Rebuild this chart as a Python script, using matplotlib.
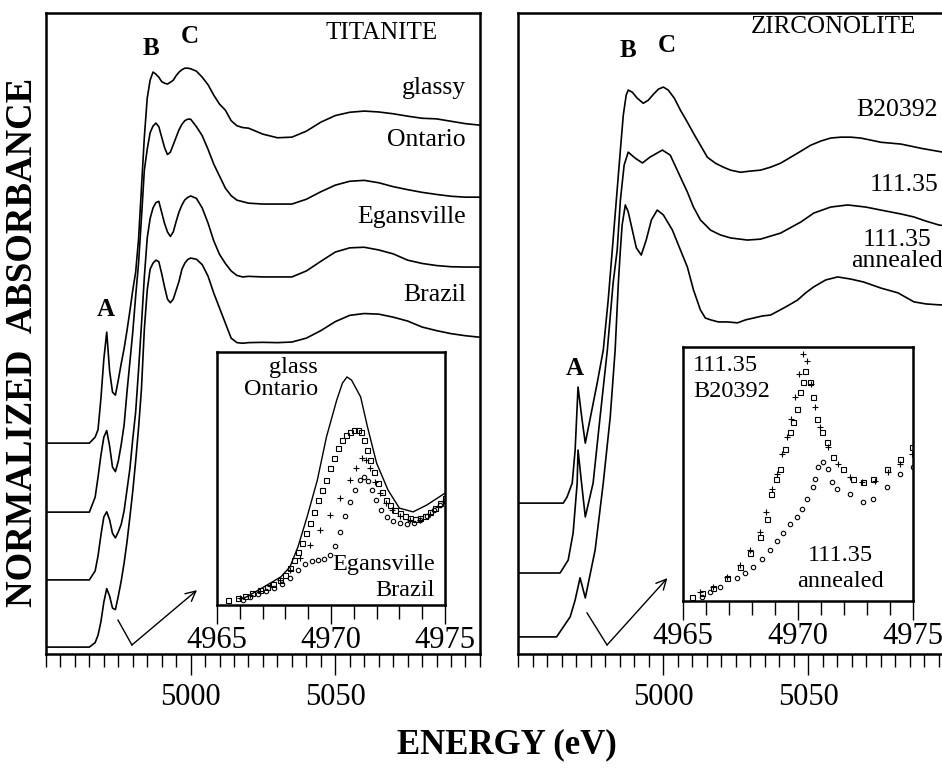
import numpy as np
import matplotlib.pyplot as plt

plt.rcParams['font.family'] = ['Liberation Serif', 'DejaVu Serif']

# ---------------- titanite (left panel), common energy grid ----------------
e_ti = [4950, 4960, 4965, 4967, 4968, 4969, 4970, 4971, 4972, 4973, 4974, 4975,
        4976, 4977, 4978, 4979, 4980, 4981, 4982, 4983, 4984, 4985, 4986, 4987,
        4988, 4989, 4990, 4991, 4992, 4993, 4994, 4995, 4996, 4997, 4998, 4999,
        5000, 5002, 5004, 5006, 5008, 5010, 5012, 5014, 5016, 5018, 5020, 5025,
        5030, 5035, 5040, 5045, 5050, 5055, 5060, 5065, 5070, 5075, 5080, 5085,
        5090, 5095, 5100]

glassy = [0, 0, 0, 0.02, 0.045, 0.15, 0.28, 0.37, 0.24, 0.17, 0.16, 0.21,
          0.265, 0.315, 0.375, 0.44, 0.51, 0.57, 0.68, 0.85, 1.02, 1.15, 1.21, 1.237,
          1.23, 1.22, 1.205, 1.2, 1.197, 1.203, 1.21, 1.225, 1.237, 1.245, 1.25, 1.25,
          1.248, 1.24, 1.22, 1.195, 1.16, 1.13, 1.11, 1.075, 1.058, 1.052, 1.05, 1.03,
          1.018, 1.02, 1.04, 1.07, 1.092, 1.103, 1.107, 1.104, 1.098, 1.09, 1.083, 1.081,
          1.073, 1.065, 1.06]

ontario = [0, 0, 0, 0.05, 0.117, 0.19, 0.25, 0.272, 0.22, 0.15, 0.135, 0.17,
           0.225, 0.29, 0.4, 0.5, 0.6, 0.72, 0.83, 0.98, 1.14, 1.21, 1.265, 1.287,
           1.297, 1.285, 1.25, 1.215, 1.192, 1.2, 1.225, 1.25, 1.275, 1.293, 1.305, 1.31,
           1.31, 1.285, 1.255, 1.21, 1.16, 1.12, 1.08, 1.055, 1.04, 1.035, 1.03, 1.027,
           1.027, 1.027, 1.043, 1.068, 1.09, 1.103, 1.106, 1.098, 1.085, 1.075, 1.066, 1.059,
           1.053, 1.05, 1.05]

egansville = [0, 0, 0, 0.03, 0.08, 0.15, 0.21, 0.227, 0.2, 0.155, 0.14, 0.16,
              0.185, 0.23, 0.3, 0.37, 0.47, 0.56, 0.7, 0.85, 1.01, 1.14, 1.205, 1.24,
              1.258, 1.262, 1.225, 1.188, 1.16, 1.145, 1.16, 1.195, 1.227, 1.25, 1.267, 1.275,
              1.28, 1.272, 1.24, 1.19, 1.13, 1.085, 1.055, 1.03, 1.015, 1.01, 1.012, 1.01,
              1.01, 1.01, 1.03, 1.062, 1.093, 1.107, 1.109, 1.1, 1.087, 1.066, 1.055, 1.048,
              1.044, 1.043, 1.043]

brazil = [0, 0, 0, 0.015, 0.04, 0.085, 0.15, 0.195, 0.17, 0.13, 0.125, 0.17,
          0.22, 0.28, 0.35, 0.433, 0.52, 0.62, 0.73, 0.86, 1.06, 1.19, 1.26, 1.28,
          1.29, 1.285, 1.245, 1.2, 1.16, 1.148, 1.16, 1.19, 1.22, 1.26, 1.28, 1.292,
          1.297, 1.293, 1.275, 1.237, 1.18, 1.13, 1.08, 1.03, 1.015, 1.013, 1.015, 1.016,
          1.015, 1.017, 1.03, 1.055, 1.085, 1.106, 1.112, 1.11, 1.1, 1.087, 1.067, 1.055,
          1.045, 1.038, 1.033]

ti_names = ['glassy', 'Ontario', 'Egansville', 'Brazil']
ti_offsets = [0.703, 0.473, 0.247, 0.023]

# ---------------- zirconolite (right panel) ----------------
e_b20392 = [4950, 4965.6, 4966.9, 4968.7, 4969.7, 4970.7, 4972.1, 4973.2, 4977.3, 4979.4,
            4981.1, 4982.5, 4983.9, 4985.3, 4986.3, 4987.3, 4988.0, 4989.4, 4991.1, 4993.2,
            4994.9, 4996.7, 4998.4, 5000.1, 5001.8, 5003.9, 5006.0, 5008.4, 5010.5, 5012.9,
            5015.3, 5018.1, 5020.8, 5023.3, 5026.7, 5030.2, 5033.6, 5037.1, 5040.5, 5044.0,
            5047.5, 5050.9, 5054.4, 5057.8, 5061.3, 5064.7, 5068.2, 5071.7, 5075.1, 5078.6,
            5082.0, 5085.5, 5088.9, 5092.4, 5096.5, 5100]
b20392 = [0, 0, 0.02, 0.067, 0.177, 0.387, 0.277, 0.2, 0.4, 0.51,
          0.677, 0.843, 1.01, 1.177, 1.293, 1.36, 1.377, 1.37, 1.35, 1.333,
          1.343, 1.363, 1.38, 1.387, 1.377, 1.35, 1.31, 1.27, 1.233, 1.193,
          1.153, 1.133, 1.12, 1.11, 1.103, 1.107, 1.11, 1.12, 1.133, 1.153,
          1.173, 1.193, 1.207, 1.217, 1.22, 1.22, 1.217, 1.21, 1.203, 1.2,
          1.197, 1.19, 1.183, 1.177, 1.17, 1.165]

e_z111 = [4950, 4964.5, 4967.3, 4969.0, 4970.4, 4970.7, 4971.8, 4973.2, 4975.9, 4978.3,
          4980.8, 4982.8, 4984.2, 4985.3, 4986.6, 4988.0, 4990.4, 4992.9, 4995.6, 4999.8,
          5002.5, 5006.0, 5008.4, 5010.5, 5012.9, 5016.4, 5019.8, 5023.3, 5029.1, 5033.6,
          5040.5, 5047.5, 5052.0, 5057.8, 5063.7, 5069.9, 5075.1, 5082.0, 5086.5, 5090.7,
          5095.2, 5100]
z111 = [0, 0, 0.043, 0.133, 0.3, 0.41, 0.31, 0.187, 0.3, 0.52,
        0.743, 0.967, 1.077, 1.243, 1.36, 1.403, 1.383, 1.367, 1.387, 1.41,
        1.393, 1.32, 1.27, 1.22, 1.177, 1.143, 1.127, 1.117, 1.11, 1.113,
        1.133, 1.17, 1.2, 1.22, 1.227, 1.22, 1.21, 1.197, 1.187, 1.173,
        1.16, 1.155]

e_z111a = [4950, 4963.3, 4968.0, 4969.7, 4971.4, 4973.2, 4976.6, 4979.4, 4981.8, 4983.5,
           4984.6, 4985.3, 4985.9, 4987.0, 4988.0, 4989.4, 4990.8, 4992.5, 4994.2, 4996.0,
           4998.0, 5000.1, 5003.2, 5006.0, 5008.4, 5010.5, 5012.9, 5014.6, 5016.4, 5019.1,
           5022.2, 5025.7, 5028.5, 5031.2, 5034.3, 5037.1, 5042.3, 5046.4, 5049.2, 5052.0,
           5056.1, 5060.2, 5064.7, 5069.2, 5075.1, 5081.0, 5086.5, 5090.7, 5095.2, 5100]
z111a = [0, 0, 0.067, 0.123, 0.197, 0.13, 0.29, 0.513, 0.733, 0.957,
         1.18, 1.29, 1.373, 1.44, 1.417, 1.357, 1.297, 1.273, 1.323, 1.39,
         1.423, 1.407, 1.357, 1.29, 1.233, 1.157, 1.09, 1.063, 1.057, 1.05,
         1.05, 1.047, 1.057, 1.063, 1.07, 1.073, 1.1, 1.123, 1.147, 1.167,
         1.19, 1.2, 1.193, 1.183, 1.163, 1.147, 1.117, 1.11, 1.107, 1.105]

zr_names = ['B20392', '111.35', '111.35\nannealed']
zr_offsets = [0.503, 0.27, 0.057]

# ---------------- titanite inset (pre-edge) ----------------
ei_glass = [4966.0, 4966.3, 4967.2, 4967.8, 4968.2, 4968.55, 4968.95, 4969.4, 4969.8, 4970.25,
            4970.5, 4970.7, 4970.9, 4971.3, 4971.6, 4972.0, 4972.5, 4973.0, 4973.6, 4974.2, 4975.0]
i_glass = [0.01, 0.013, 0.032, 0.045, 0.061, 0.093, 0.141, 0.2, 0.269, 0.328,
           0.355, 0.365, 0.36, 0.333, 0.285, 0.227, 0.184, 0.155, 0.149, 0.16, 0.179]

ei_ont = [4965.48, 4965.92, 4966.23, 4966.54, 4966.89, 4967.19, 4967.46, 4967.76, 4967.98, 4968.2,
          4968.38, 4968.55, 4968.73, 4968.9, 4969.08, 4969.25, 4969.43, 4969.61, 4969.78, 4969.96,
          4970.13, 4970.31, 4970.48, 4970.66, 4970.83, 4971.01, 4971.18, 4971.32, 4971.45, 4971.58,
          4971.71, 4971.89, 4972.06, 4972.24, 4972.41, 4972.59, 4972.81, 4973.03, 4973.25, 4973.46,
          4973.68, 4973.9, 4974.12, 4974.34, 4974.56, 4974.78, 4975.0]
i_ont = [0.008, 0.011, 0.014, 0.019, 0.024, 0.029, 0.034, 0.04, 0.048, 0.059,
         0.072, 0.085, 0.099, 0.115, 0.131, 0.149, 0.168, 0.184, 0.2, 0.219,
         0.235, 0.251, 0.264, 0.272, 0.277, 0.28, 0.28, 0.277, 0.264, 0.248,
         0.232, 0.213, 0.195, 0.181, 0.168, 0.16, 0.152, 0.147, 0.142, 0.139,
         0.138, 0.139, 0.142, 0.149, 0.155, 0.163, 0.171]

ei_egan = [4966.01, 4966.45, 4966.89, 4967.32, 4967.76, 4968.2, 4968.64, 4969.08, 4969.52, 4969.96,
           4970.39, 4970.83, 4971.1, 4971.36, 4971.54, 4971.71, 4971.93, 4972.15, 4972.41, 4972.68,
           4973.03, 4973.46, 4973.9, 4974.34, 4974.69, 4975.0]
i_egan = [0.011, 0.016, 0.022, 0.03, 0.04, 0.056, 0.075, 0.096, 0.12, 0.144,
          0.171, 0.2, 0.219, 0.235, 0.232, 0.219, 0.197, 0.179, 0.163, 0.152,
          0.142, 0.136, 0.136, 0.146, 0.157, 0.165]

ei_braz = [4966.14, 4966.45, 4966.8, 4967.15, 4967.5, 4967.85, 4968.2, 4968.55, 4968.86, 4969.17,
           4969.43, 4969.69, 4969.96, 4970.18, 4970.39, 4970.61, 4970.83, 4971.05, 4971.27, 4971.45,
           4971.62, 4971.8, 4971.97, 4972.19, 4972.46, 4972.72, 4973.03, 4973.33, 4973.64, 4973.9,
           4974.21, 4974.52, 4974.78, 4975.0]
i_braz = [0.008, 0.013, 0.018, 0.022, 0.027, 0.034, 0.043, 0.056, 0.066, 0.07,
          0.072, 0.074, 0.08, 0.094, 0.117, 0.142, 0.165, 0.184, 0.2, 0.205,
          0.198, 0.184, 0.168, 0.152, 0.141, 0.134, 0.131, 0.13, 0.131, 0.136,
          0.142, 0.152, 0.16, 0.166]

# ---------------- zirconolite inset (pre-edge) ----------------
ez_b = [4965.39, 4965.83, 4966.3, 4966.91, 4967.48, 4967.91, 4968.35, 4968.65, 4968.83, 4969.04,
        4969.22, 4969.43, 4969.65, 4969.78, 4969.96, 4970.09, 4970.22, 4970.3, 4970.52, 4970.65,
        4970.83, 4971.04, 4971.26, 4971.52, 4971.96, 4972.39, 4972.83, 4973.26, 4973.87, 4974.43,
        4974.96]
iz_b = [0.006, 0.013, 0.021, 0.037, 0.054, 0.077, 0.102, 0.13, 0.17, 0.194,
        0.21, 0.242, 0.27, 0.285, 0.306, 0.333, 0.35, 0.366, 0.35, 0.326,
        0.29, 0.27, 0.253, 0.23, 0.21, 0.194, 0.189, 0.194, 0.21, 0.226,
        0.245]

ez_111 = [4965.74, 4966.3, 4966.91, 4967.48, 4967.91, 4968.35, 4968.61, 4968.87, 4969.09, 4969.3,
          4969.52, 4969.7, 4969.87, 4970.04, 4970.22, 4970.39, 4970.57, 4970.74, 4970.96, 4971.3,
          4971.74, 4972.26, 4972.78, 4973.35, 4973.91, 4974.43, 4974.96]
iz_111 = [0.014, 0.022, 0.038, 0.058, 0.082, 0.11, 0.142, 0.178, 0.202, 0.234,
          0.261, 0.29, 0.325, 0.362, 0.394, 0.382, 0.346, 0.309, 0.277, 0.246,
          0.218, 0.198, 0.189, 0.192, 0.205, 0.218, 0.234]

ez_ann = [4965.83, 4966.17, 4966.61, 4967.35, 4967.7, 4968.04, 4968.43, 4968.78, 4969.09, 4969.35,
          4969.65, 4969.96, 4970.17, 4970.39, 4970.65, 4970.74, 4970.87, 4971.09, 4971.3, 4971.48,
          4971.7, 4972.26, 4972.83, 4973.26, 4973.87, 4974.43, 4975.0]
iz_ann = [0.006, 0.014, 0.022, 0.037, 0.045, 0.054, 0.067, 0.082, 0.096, 0.109,
          0.122, 0.134, 0.147, 0.162, 0.182, 0.194, 0.213, 0.221, 0.21, 0.19,
          0.178, 0.17, 0.158, 0.162, 0.182, 0.202, 0.214]


def main_axes(fig, rect):
    ax = fig.add_axes(rect)
    ax.set_xlim(4950, 5100)
    ax.set_ylim(0, 2.137)
    ax.set_xticks([5000, 5050])
    ax.set_xticks(np.arange(4950, 5101, 5), minor=True)
    ax.tick_params(axis='x', which='major', direction='out', length=15, width=1,
                   labelsize=22, pad=6)
    ax.tick_params(axis='x', which='minor', direction='out', length=9, width=1)
    ax.set_yticks([])
    for s in ax.spines.values():
        s.set_linewidth(1.8)
    return ax


def inset_axes(fig, rect):
    ax = fig.add_axes(rect)
    ax.set_xlim(4965, 4975)
    ax.set_ylim(0, 0.405)
    ax.set_xticks([4965, 4970, 4975])
    ax.set_xticks(np.arange(4965, 4976, 1), minor=True)
    ax.tick_params(axis='x', which='major', direction='out', length=14, width=1,
                   labelsize=22, pad=1)
    ax.tick_params(axis='x', which='minor', direction='out', length=10, width=1)
    ax.set_yticks([])
    for s in ax.spines.values():
        s.set_linewidth(1.8)
    return ax


fig = plt.figure(figsize=(9.42, 7.77), dpi=100)

# ---- left panel: titanite
ax1 = main_axes(fig, [0.0488, 0.1583, 0.4607, 0.825])
for y, off in zip([glassy, ontario, egansville, brazil], ti_offsets):
    ax1.plot(e_ti, np.array(y) + off, color='k', lw=1.2)
ax1.text(0.773, 0.969, 'TITANITE', transform=ax1.transAxes, ha='center', va='center', fontsize=18)
for name, yy in zip(ti_names, [0.883, 0.802, 0.682, 0.560]):
    ax1.text(0.968, yy, name, transform=ax1.transAxes, ha='right', va='center', fontsize=18.5)
ax1.text(0.242, 0.945, 'B', transform=ax1.transAxes, ha='center', va='center', fontsize=18, fontweight='bold')
ax1.text(0.332, 0.963, 'C', transform=ax1.transAxes, ha='center', va='center', fontsize=18, fontweight='bold')
ax1.text(0.138, 0.537, 'A', transform=ax1.transAxes, ha='center', va='center', fontsize=18, fontweight='bold')
ax1.plot([4974.9, 4979.7], [0.113, 0.03], color='k', lw=1)
ax1.annotate('', xy=(5002.2, 0.213), xytext=(4979.7, 0.03),
             arrowprops=dict(arrowstyle='->', lw=1, color='k', mutation_scale=18,
                             shrinkA=0, shrinkB=0))

# ---- right panel: zirconolite
ax2 = main_axes(fig, [0.5499, 0.1583, 0.4618, 0.825])
for e, y, off in zip([e_b20392, e_z111, e_z111a], [b20392, z111, z111a], zr_offsets):
    ax2.plot(e, np.array(y) + off, color='k', lw=1.2)
ax2.text(0.726, 0.978, 'ZIRCONOLITE', transform=ax2.transAxes, ha='center', va='center', fontsize=18)
ax2.text(0.966, 0.849, zr_names[0], transform=ax2.transAxes, ha='right', va='center', fontsize=18.5)
ax2.text(0.966, 0.732, zr_names[1], transform=ax2.transAxes, ha='right', va='center', fontsize=18.5)
ax2.text(0.872, 0.630, zr_names[2], transform=ax2.transAxes, ha='center', va='center',
         fontsize=18.5, linespacing=0.95)
ax2.text(0.253, 0.942, 'B', transform=ax2.transAxes, ha='center', va='center', fontsize=18, fontweight='bold')
ax2.text(0.343, 0.950, 'C', transform=ax2.transAxes, ha='center', va='center', fontsize=18, fontweight='bold')
ax2.text(0.131, 0.446, 'A', transform=ax2.transAxes, ha='center', va='center', fontsize=18, fontweight='bold')
ax2.plot([4973.8, 4980.7], [0.137, 0.03], color='k', lw=1)
ax2.annotate('', xy=(5001.5, 0.253), xytext=(4980.7, 0.03),
             arrowprops=dict(arrowstyle='->', lw=1, color='k', mutation_scale=18,
                             shrinkA=0, shrinkB=0))

# ---- titanite inset
ai1 = inset_axes(fig, [0.2304, 0.2214, 0.2420, 0.3256])
ai1.plot(ei_glass, i_glass, color='k', lw=1)
ai1.plot(ei_ont, i_ont, ls='none', marker='s', ms=3.6, mfc='none', mec='k', mew=0.8)
ai1.plot(ei_egan, i_egan, ls='none', marker='+', ms=4, mec='k', mew=0.8)
ai1.plot(ei_braz, i_braz, ls='none', marker='o', ms=3.2, mfc='none', mec='k', mew=0.8)
ai1.text(0.443, 0.94, 'glass', transform=ai1.transAxes, ha='right', va='center', fontsize=17.5)
ai1.text(0.443, 0.85, 'Ontario', transform=ai1.transAxes, ha='right', va='center', fontsize=17.5)
ai1.text(0.956, 0.158, 'Egansville', transform=ai1.transAxes, ha='right', va='center', fontsize=17.5)
ai1.text(0.956, 0.059, 'Brazil', transform=ai1.transAxes, ha='right', va='center', fontsize=17.5)

# ---- zirconolite inset
ai2 = inset_axes(fig, [0.7251, 0.2265, 0.2442, 0.3269])
ai2.plot(ez_b, iz_b, ls='none', marker='s', ms=3.6, mfc='none', mec='k', mew=0.8)
ai2.plot(ez_111, iz_111, ls='none', marker='+', ms=4, mec='k', mew=0.8)
ai2.plot(ez_ann, iz_ann, ls='none', marker='o', ms=3.2, mfc='none', mec='k', mew=0.8)
ai2.text(0.043, 0.929, '111.35', transform=ai2.transAxes, ha='left', va='center', fontsize=17.5)
ai2.text(0.043, 0.826, 'B20392', transform=ai2.transAxes, ha='left', va='center', fontsize=17.5)
ai2.text(0.685, 0.181, '111.35', transform=ai2.transAxes, ha='center', va='center', fontsize=17.5)
ai2.text(0.683, 0.075, 'annealed', transform=ai2.transAxes, ha='center', va='center', fontsize=17.5)

fig.text(0.024, 0.559, 'NORMALIZED  ABSORBANCE', rotation=90, ha='center', va='center',
         fontsize=26.5, fontweight='bold')
fig.text(0.538, 0.041, 'ENERGY (eV)', ha='center', va='center', fontsize=25, fontweight='bold')

fig.savefig('out.png', dpi=100)
